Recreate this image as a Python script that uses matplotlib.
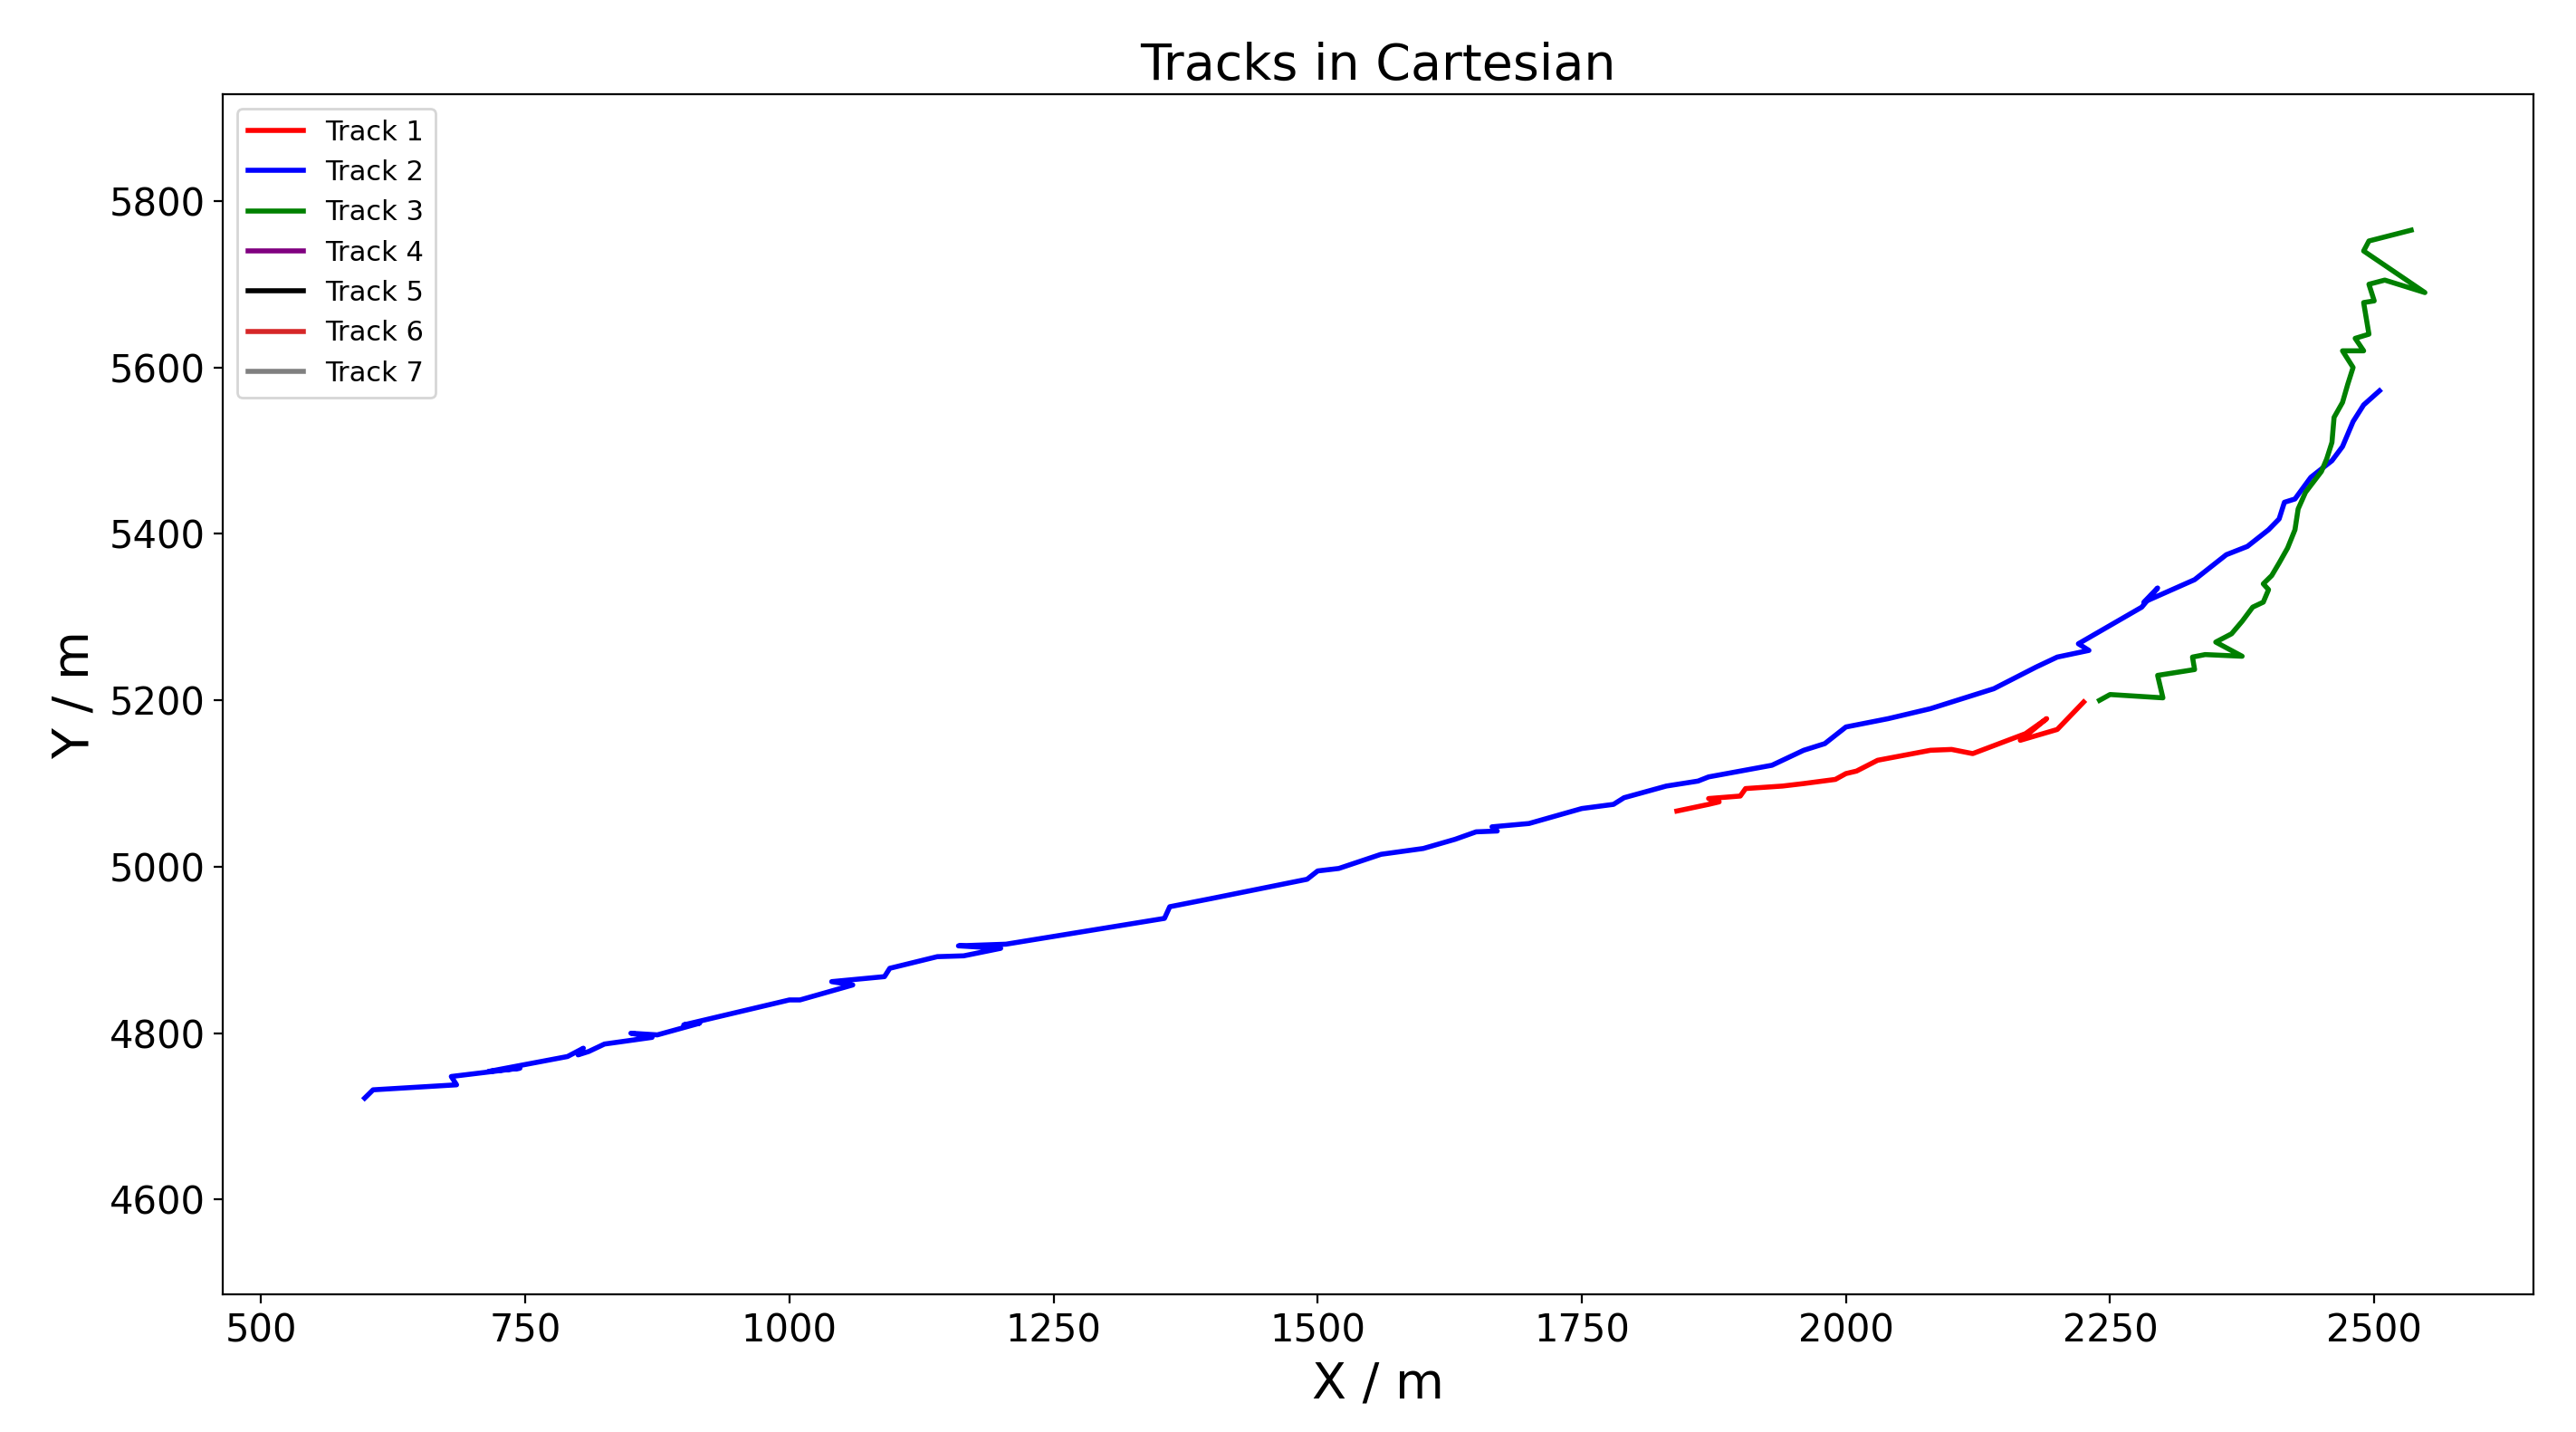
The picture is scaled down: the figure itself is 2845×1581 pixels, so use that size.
import matplotlib.pyplot as plt

# Track 1 (red)
t1_x = [1840, 1870, 1880, 1870, 1900, 1905, 1940, 1960, 1990, 2000, 2010, 2030, 2080, 2100,
        2120, 2170, 2190, 2165, 2200, 2225]
t1_y = [5067, 5075, 5078, 5082, 5085, 5094, 5097, 5100, 5105, 5112, 5115, 5128, 5140, 5141,
        5136, 5160, 5178, 5152, 5165, 5198]

# Track 2 (blue)
t2_x = [598, 606, 685, 680, 745, 715, 790, 805, 800, 810, 825, 870, 850, 875, 915, 900, 960,
        1000, 1010, 1060, 1040, 1090, 1095, 1140, 1165, 1200, 1160, 1205, 1355, 1360, 1400,
        1490, 1500, 1520, 1560, 1600, 1630, 1650, 1670, 1665, 1700, 1750, 1780, 1790, 1830,
        1860, 1870, 1930, 1960, 1980, 2000, 2040, 2080, 2140, 2180, 2200, 2230, 2220, 2250,
        2280, 2295, 2282, 2330, 2360, 2380, 2400, 2410, 2415, 2425, 2440, 2460, 2470, 2480,
        2490, 2505]
t2_y = [4722, 4732, 4738, 4748, 4758, 4754, 4772, 4782, 4774, 4778, 4787, 4795, 4800, 4798,
        4812, 4810, 4828, 4840, 4840, 4858, 4862, 4868, 4878, 4892, 4893, 4902, 4905, 4907,
        4938, 4952, 4962, 4985, 4995, 4998, 5015, 5022, 5033, 5042, 5043, 5048, 5052, 5070,
        5075, 5083, 5097, 5103, 5108, 5122, 5140, 5148, 5168, 5178, 5190, 5214, 5240, 5252,
        5260, 5268, 5290, 5312, 5335, 5318, 5345, 5375, 5385, 5405, 5418, 5438, 5442, 5468,
        5488, 5505, 5535, 5555, 5572]

# Track 3 (green)
t3_x = [2240, 2250, 2300, 2295, 2330, 2328, 2340, 2375, 2350, 2365, 2375, 2385, 2395, 2400,
        2395, 2403, 2410, 2418, 2425, 2428, 2435, 2450, 2455, 2460, 2462, 2470, 2475, 2480,
        2470, 2490, 2482, 2495, 2490, 2500, 2495, 2510, 2548, 2490, 2495, 2535]
t3_y = [5200, 5207, 5203, 5230, 5237, 5252, 5255, 5253, 5270, 5280, 5295, 5312, 5318, 5333,
        5340, 5350, 5365, 5383, 5405, 5430, 5450, 5475, 5490, 5510, 5540, 5558, 5580, 5600,
        5620, 5620, 5635, 5640, 5678, 5680, 5700, 5705, 5690, 5740, 5752, 5765]

tracks = [(t1_x, t1_y, 'red'), (t2_x, t2_y, 'blue'), (t3_x, t3_y, 'green'),
          ([], [], 'purple'), ([], [], 'black'), ([], [], 'tab:red'), ([], [], 'gray')]

fig = plt.figure(figsize=(14.225, 7.905), dpi=200)
ax = fig.add_axes([0.0866, 0.096, 0.897, 0.838])
for i, (x, y, c) in enumerate(tracks):
    ax.plot(x, y, color=c, lw=2.0, label='Track %d' % (i + 1))

ax.set_xlim(464, 2651)
ax.set_ylim(4486, 5928)
ax.set_xticks(range(500, 2501, 250))
ax.set_yticks(range(4600, 5801, 200))
ax.tick_params(labelsize=15)
ax.set_xlabel('X / m', fontsize=20)
ax.set_ylabel('Y / m', fontsize=20)
ax.set_title('Tracks in Cartesian', fontsize=20)
ax.legend(loc='upper left', fontsize=11)
fig.savefig('out.png')
